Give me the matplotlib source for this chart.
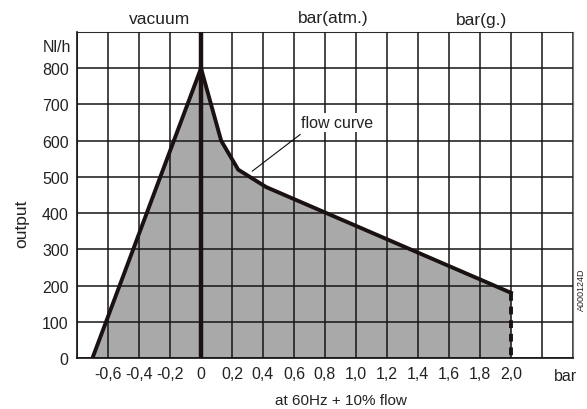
import numpy as np
import matplotlib
matplotlib.use("Agg")
import matplotlib.pyplot as plt

plt.rcParams['font.family'] = ['Liberation Sans', 'DejaVu Sans']

# flow curve (bar, Nl/h)
curve_x = [-0.70, 0.0, 0.13, 0.24, 0.42, 2.0]
curve_y = [0, 800, 600, 520, 472, 180]
x_ticks = [-0.6, -0.4, -0.2, 0, 0.2, 0.4, 0.6, 0.8, 1.0, 1.2, 1.4, 1.6, 1.8, 2.0]
x_ticklabels = ['-0,6', '-0,4', '-0,2', '0', '0,2', '0,4', '0,6', '0,8',
                '1,0', '1,2', '1,4', '1,6', '1,8', '2,0']
y_ticks = [0, 100, 200, 300, 400, 500, 600, 700, 800]
end_x = 2.0
end_y = 180

fig = plt.figure(figsize=(5.87, 4.10), dpi=100)
ax = fig.add_axes([77 / 587, 51 / 410, 496 / 587, 326 / 410])
ax.set_xlim(-0.8, 2.4)
ax.set_ylim(0, 900)

ax.fill_between(curve_x, curve_y, 0, color='#a9a9a9', lw=0, zorder=2)

# grid
for gx in np.arange(-0.8, 2.41, 0.2):
    ax.axvline(gx, color='#151515', lw=1.1, zorder=3)
for gy in range(0, 901, 100):
    ax.axhline(gy, color='#151515', lw=1.1, zorder=3)

ax.plot(curve_x, curve_y, color='#1a1111', lw=2.8, zorder=5,
        solid_joinstyle='miter')
ax.plot([end_x, end_x], [end_y, 0], color='#1a1111', lw=2.8,
        ls=(0, (2.0, 1.5)), zorder=5)
ax.axvline(0, color='#1a1111', lw=3.2, zorder=5)

for s in ['top', 'right']:
    ax.spines[s].set_color('#777777')
for s in ['left', 'bottom']:
    ax.spines[s].set_color('#111111')
    ax.spines[s].set_linewidth(1.2)

ax.set_xticks(x_ticks)
ax.set_xticklabels(x_ticklabels, fontsize=11.5, color='#222222')
ax.set_yticks(y_ticks)
ax.set_yticklabels([str(v) for v in y_ticks], fontsize=11.5, color='#222222')
ax.tick_params(length=0, pad=6)
ax.tick_params(axis='y', pad=6)

# annotation
ax.annotate('', xy=(0.316, 511), xytext=(0.655, 622),
            arrowprops=dict(arrowstyle='-', color='#111111', lw=0.8), zorder=6)
ax.text(0.645, 650, 'flow curve', fontsize=11.5, va='center', ha='left',
        color='#222222',
        bbox=dict(facecolor='white', edgecolor='none', pad=1.5), zorder=6)

fig.text(160 / 587, 1 - 19 / 410, 'vacuum', fontsize=12.5, ha='center',
         va='center', color='#222222')
fig.text(333 / 587, 1 - 18 / 410, 'bar(atm.)', fontsize=12.5, ha='center',
         va='center', color='#222222')
fig.text(482 / 587, 1 - 21 / 410, 'bar(g.)', fontsize=12.5, ha='center',
         va='center', color='#222222')
fig.text(71 / 587, 1 - 48 / 410, 'Nl/h', fontsize=11.5, ha='right',
         va='center', color='#222222')
fig.text(22 / 587, 1 - 224 / 410, 'output', fontsize=12.5, ha='center',
         va='center', rotation=90, color='#222222')
fig.text(565 / 587, 1 - 377 / 410, 'bar', fontsize=11.5, ha='center',
         va='center', color='#222222')
fig.text(341 / 587, 1 - 401 / 410, 'at 60Hz + 10% flow', fontsize=11,
         ha='center', va='center', color='#222222')
fig.text(581 / 587, 1 - 290 / 410, 'A000124D', fontsize=6.5, ha='center',
         va='center', rotation=90, color='#222222')

fig.savefig('out.png', dpi=100)
